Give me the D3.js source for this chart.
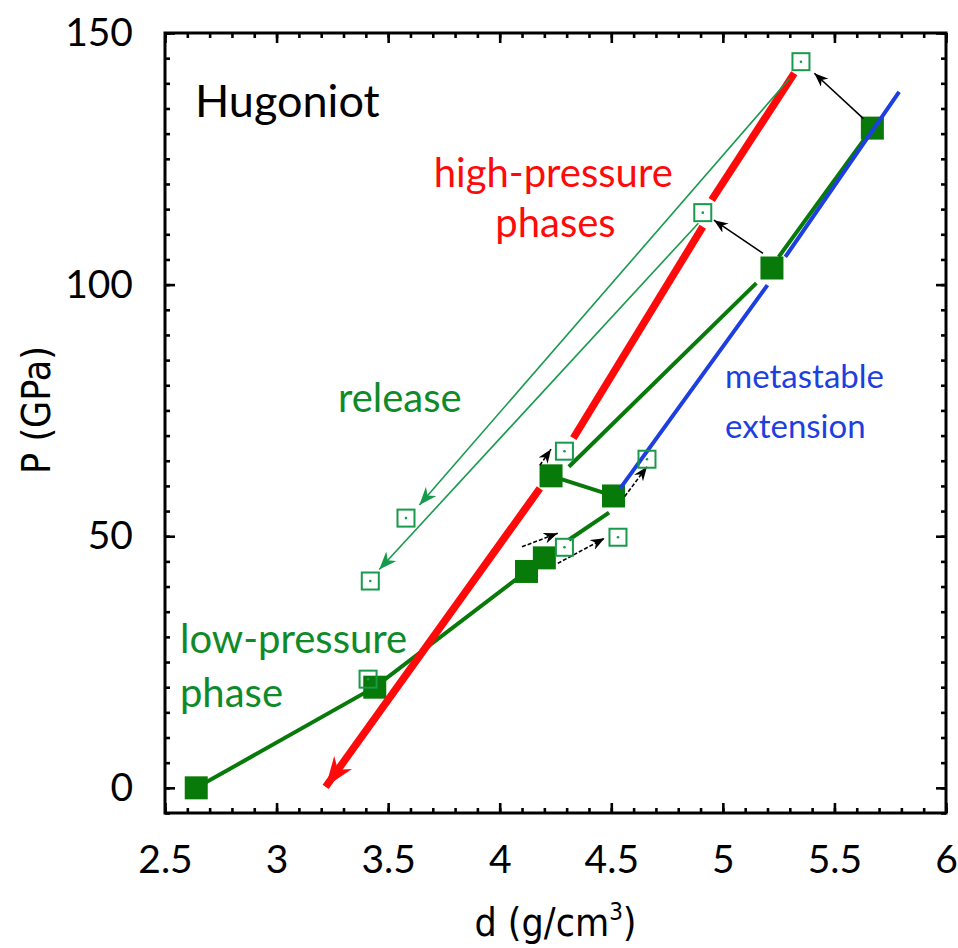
<!DOCTYPE html>
<html>
<head>
<meta charset="utf-8">
<script src="https://cdn.jsdelivr.net/npm/d3@7"></script>
<style>
    body { margin: 0; background: #fff; }
    svg { display: block; }
    .tick text { font-family: Lato, sans-serif; font-size: 39px; fill: #000; }
    .tick line { stroke: #000; stroke-width: 2.6; }
    .lbl { font-family: Lato, sans-serif; font-size: 40px; }
    .title { font-family: "Liberation Sans Narrow", "DejaVu Sans Condensed", sans-serif; font-size: 39px; fill: #000; }
</style>
</head>
<body>
<div id="chart"></div>
<script>
// axis ticks
let xTicks = [2.5, 3, 3.5, 4, 4.5, 5, 5.5, 6],
    yTicks = [0, 50, 100, 150];

// filled squares: shock states, d (g/cm3) and P (GPa)
let shockD = [2.64, 3.44, 4.12, 4.20, 4.23, 4.51, 5.22, 5.67],
    shockP = [0, 20, 43, 45.7, 62, 58, 103.3, 131.1];

// open squares: released states
let releaseD = [5.35, 4.91, 3.58, 3.42, 3.41, 4.29, 4.66, 4.29, 4.53],
    releaseP = [144.3, 114.3, 53.6, 41.1, 21.6, 66.9, 65.3, 47.8, 49.8];

// high-pressure phases hugoniot (red), null marks a gap
let hpD = [3.22, 4.18, null, 4.33, 4.91, null, 4.95, 5.32],
    hpP = [0.2, 59.5, null, 69.5, 111.5, null, 116.8, 142];

// metastable extension (blue)
let msD = [4.54, 5.20, null, 5.28, 5.79],
    msP = [59.5, 99.9, null, 105.5, 138.3];

// low-pressure phase and mixed hugoniot (green)
let lpD = [2.64, 3.44, 4.12, null, 4.31, 4.49, null, 4.23, 4.51, null, 4.31, 5.15, null, 5.25, 5.67],
    lpP = [0, 20, 43, null, 49.3, 54.7, null, 62, 58, null, 63.8, 100.3, null, 105.5, 131.1];

// release paths (thin green arrows)
let relFromD = [5.30, 4.89],
    relFromP = [141, 112.2],
    relToD = [3.64, 3.46],
    relToP = [56.2, 43.4];

// black arrows from shock state to release state
let arrFromD = [5.63, 5.18, 4.56, 4.18, 4.10, 4.26],
    arrFromP = [133.0, 106.2, 57.9, 64.1, 47.9, 44.6],
    arrToD = [5.41, 4.96, 4.66, 4.23, 4.26, 4.47],
    arrToP = [142.0, 112.8, 63.8, 67.3, 50.6, 49.6],
    arrDashed = [false, false, true, true, true, true];

let width = 958,
    height = 948,
    margin = {top: 33, right: 12, bottom: 135, left: 165};

let darkGreen = "#077a0a",
    lightGreen = "#179a4c",
    textGreen = "#0e8a2a",
    red = "#ff0a0a",
    blue = "#1e3fe0";

let svg = d3.select("#chart")
    .append("svg")
    .attr("width", width)
    .attr("height", height);

let x = d3.scaleLinear()
    .domain([2.5, 6])
    .range([margin.left, width - margin.right]);

let y = d3.scaleLinear()
    .domain([-5, 150])
    .range([height - margin.bottom, margin.top]);

// arrow heads
let defs = svg.append("defs");
function dart(id, len, half, color) {
    defs.append("marker")
        .attr("id", id)
        .attr("markerUnits", "userSpaceOnUse")
        .attr("viewBox", [0, -half, len, half * 2].join(" "))
        .attr("refX", len)
        .attr("refY", 0)
        .attr("markerWidth", len)
        .attr("markerHeight", half * 2)
        .attr("orient", "auto-start-reverse")
        .append("path")
        .attr("d", "M0," + (-half) + "L" + len + ",0L0," + half + "L" + (len * 0.3) + ",0Z")
        .style("fill", color);
}
dart("headRed", 30, 11, red);
dart("headGreen", 18, 7, lightGreen);
dart("headBlack", 14, 5.5, "#000");

// ticks, inward on all four sides
let fmt = d3.format(".1~f");
let minorX = d3.range(25, 61).map(function (d) { return d / 10; }),
    minorY = d3.range(-1, 31).map(function (d) { return d * 5; });

function axes(axis, scale, major, minor, tx, ty, labels) {
    let g = svg.append("g").attr("transform", "translate(" + tx + "," + ty + ")");
    g.call(axis(scale).tickValues(minor).tickSize(-5).tickFormat(""));
    g.call(function (s) { s.select(".domain").remove(); });
    let g2 = svg.append("g").attr("transform", "translate(" + tx + "," + ty + ")");
    g2.call(axis(scale).tickValues(major).tickSize(-10).tickPadding(labels ? 32 : 0)
        .tickFormat(labels ? fmt : ""));
    g2.select(".domain").remove();
    return g2;
}
axes(d3.axisBottom, x, xTicks, minorX, 0, y(-5), true);
axes(d3.axisTop, x, xTicks, minorX, 0, y(150), false);
axes(d3.axisLeft, y, yTicks, minorY, x(2.5), 0, true);
axes(d3.axisRight, y, yTicks, minorY, x(6), 0, false);

svg.append("rect")
    .attr("x", x(2.5))
    .attr("y", y(150))
    .attr("width", x(6) - x(2.5))
    .attr("height", y(-5) - y(150))
    .style("fill", "none")
    .style("stroke", "#000")
    .style("stroke-width", 3);

// filled squares
let sq = 23;
svg.selectAll(".shock")
    .data(shockD)
    .enter()
    .append("rect")
    .attr("class", "shock")
    .attr("x", function (d) { return x(d) - sq / 2; })
    .attr("y", function (d, i) { return y(shockP[i]) - sq / 2; })
    .attr("width", sq)
    .attr("height", sq)
    .style("fill", darkGreen);

function pts(ds, ps) {
    return ds.map(function (d, i) { return {d: d, p: ps[i]}; });
}
let line = d3.line()
    .defined(function (d) { return d.d !== null; })
    .x(function (d) { return x(d.d); })
    .y(function (d) { return y(d.p); });

svg.append("path")
    .datum(pts(lpD, lpP))
    .attr("d", line)
    .style("fill", "none")
    .style("stroke", darkGreen)
    .style("stroke-width", 4);

svg.append("path")
    .datum(pts(msD, msP))
    .attr("d", line)
    .style("fill", "none")
    .style("stroke", blue)
    .style("stroke-width", 4);

svg.append("path")
    .datum(pts(hpD, hpP))
    .attr("d", line)
    .style("fill", "none")
    .style("stroke", red)
    .style("stroke-width", 7.5);

// red arrow head at the low end
svg.append("path")
    .datum(pts(hpD.slice(0, 2), hpP.slice(0, 2)))
    .attr("d", line)
    .style("fill", "none")
    .style("stroke", "none")
    .attr("marker-start", "url(#headRed)");

// release paths
relFromD.forEach(function (d, i) {
    svg.append("path")
        .datum(pts([d, relToD[i]], [relFromP[i], relToP[i]]))
        .attr("d", line)
        .style("fill", "none")
        .style("stroke", lightGreen)
        .style("stroke-width", 1.6)
        .attr("marker-end", "url(#headGreen)");
});

// black arrows
arrFromD.forEach(function (d, i) {
    svg.append("path")
        .datum(pts([d, arrToD[i]], [arrFromP[i], arrToP[i]]))
        .attr("d", line)
        .style("fill", "none")
        .style("stroke", "#000")
        .style("stroke-width", 1.6)
        .style("stroke-dasharray", arrDashed[i] ? "4,2" : null)
        .attr("marker-end", "url(#headBlack)");
});

// open squares
let osq = 17;
let open = svg.selectAll(".release")
    .data(releaseD)
    .enter()
    .append("g")
    .attr("class", "release")
    .attr("transform", function (d, i) {
        return "translate(" + x(d) + "," + y(releaseP[i]) + ")";
    });
open.append("rect")
    .attr("x", -osq / 2)
    .attr("y", -osq / 2)
    .attr("width", osq)
    .attr("height", osq)
    .style("fill", "none")
    .style("stroke", lightGreen)
    .style("stroke-width", 2);
open.append("circle")
    .attr("r", 1.3)
    .style("fill", lightGreen);

// annotations
svg.append("text")
    .attr("class", "lbl")
    .attr("x", x(2.634))
    .attr("y", y(133.3))
    .style("font-size", "45px")
    .style("fill", "#000")
    .text("Hugoniot");

let hp = svg.append("text")
    .attr("class", "lbl")
    .attr("text-anchor", "middle")
    .style("fill", red);
hp.append("tspan").attr("x", x(4.24)).attr("y", y(119.4)).text("high-pressure");
hp.append("tspan").attr("x", x(4.25)).attr("y", y(109.5)).text("phases");

svg.append("text")
    .attr("class", "lbl")
    .attr("x", x(3.275))
    .attr("y", y(74.7))
    .style("fill", textGreen)
    .text("release");

let ms = svg.append("text")
    .attr("class", "lbl")
    .style("font-size", "33px")
    .style("fill", blue);
ms.append("tspan").attr("x", x(5.01)).attr("y", y(79.5)).text("metastable");
ms.append("tspan").attr("x", x(5.01)).attr("y", y(69.5)).text("extension");

let lp = svg.append("text")
    .attr("class", "lbl")
    .style("fill", textGreen);
lp.append("tspan").attr("x", x(2.567)).attr("y", y(26.8)).text("low-pressure");
lp.append("tspan").attr("x", x(2.567)).attr("y", y(16.1)).text("phase");

// axis titles
svg.append("text")
    .attr("class", "title")
    .attr("text-anchor", "middle")
    .attr("transform", "translate(50,410) rotate(-90)")
    .text("P  (GPa)");

let xt = svg.append("text")
    .attr("class", "title")
    .attr("text-anchor", "middle")
    .attr("x", (x(2.5) + x(6)) / 2)
    .attr("y", 936);
xt.append("tspan").text("d (g/cm");
xt.append("tspan").attr("dy", -16).style("font-size", "24px").text("3");
xt.append("tspan").attr("dy", 16).text(")");
</script>
</body>
</html>
